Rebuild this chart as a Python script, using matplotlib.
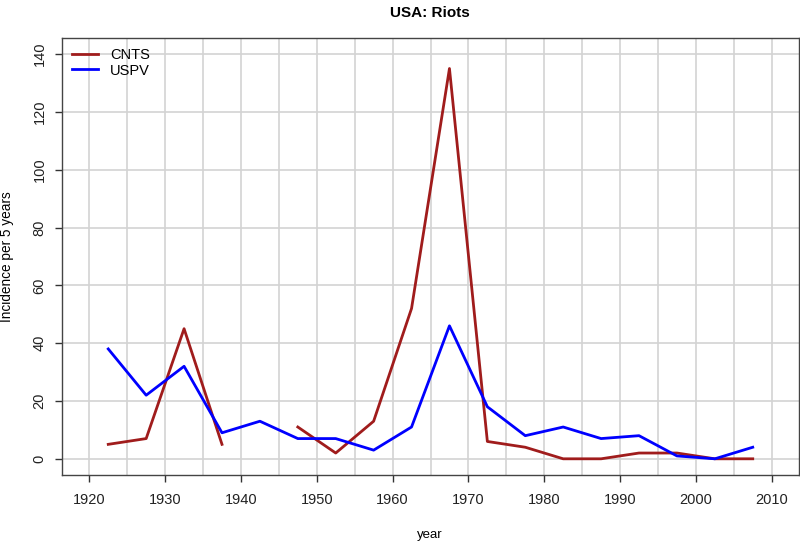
import numpy as np
import matplotlib
matplotlib.use("Agg")
import matplotlib.pyplot as plt

years = [1922.5, 1927.5, 1932.5, 1937.5, 1942.5, 1947.5, 1952.5, 1957.5, 1962.5,
         1967.5, 1972.5, 1977.5, 1982.5, 1987.5, 1992.5, 1997.5, 2002.5, 2007.5]
cnts = [5, 7, 45, 5, np.nan, 11, 2, 13, 52, 135, 6, 4, 0, 0, 2, 2, 0, 0]
uspv = [38, 22, 32, 9, 13, 7, 7, 3, 11, 46, 18, 8, 11, 7, 8, 1, 0, 4]
x_ticks = list(range(1920, 2011, 10))
y_ticks = list(range(0, 141, 20))

plt.rcParams['font.family'] = ['Liberation Sans', 'DejaVu Sans']

fig = plt.figure(figsize=(8, 5.41), dpi=100)
ax = fig.add_axes([0.0775, 0.122, 0.92125, 0.808])

xlo, xhi = 1920, 2010
ylo, yhi = 0, 140
xp = (xhi - xlo) * 0.04
yp = (yhi - ylo) * 0.04
ax.set_xlim(xlo - xp, xhi + xp)
ax.set_ylim(ylo - yp, yhi + yp)

for gx in range(1915, 2016, 5):
    ax.axvline(gx, color='#d3d3d3', lw=1.2, zorder=0)
for gy in y_ticks:
    ax.axhline(gy, color='#d3d3d3', lw=1.2, zorder=0)

ax.plot(years, cnts, color='#a01c1c', lw=2.0, label='CNTS', zorder=3)
ax.plot(years, uspv, color='#0000ff', lw=2.0, label='USPV', zorder=3)

ax.set_xticks(x_ticks)
ax.set_yticks(y_ticks)
ax.set_yticklabels([str(v) for v in y_ticks], rotation=90, va='center')
ax.tick_params(axis='both', direction='out', length=5, width=1, colors='#333333',
               labelsize=10.5, labelcolor='#222222')
ax.tick_params(axis='x', pad=8)
ax.tick_params(axis='y', pad=6)
for s in ax.spines.values():
    s.set_color('#444444')
    s.set_linewidth(1.0)

fig.text(0.5375, 1 - 13 / 541, 'USA: Riots', fontsize=11, fontweight='bold',
         ha='center', va='center')
fig.text(0.5375, 1 - 535 / 541, 'year', fontsize=9.5, ha='center', va='center')
fig.text(7 / 800, 0.122 + 0.808 / 2, 'Incidence per 5 years', fontsize=9.8,
         rotation=90, ha='center', va='center')

ax.legend(loc='upper left', frameon=False, fontsize=10.5, handlelength=1.8,
          handletextpad=0.8, borderaxespad=0.3, labelspacing=0.1)

fig.savefig('out.png', dpi=100)
